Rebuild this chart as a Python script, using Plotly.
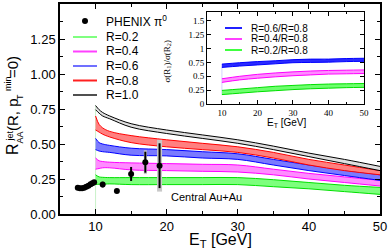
import plotly.graph_objects as go

# ---------------- data ----------------
E = [10, 10.5, 11, 12, 15, 20, 25, 30, 35, 40, 45, 50]
R10_hi = [0.775, 0.745, 0.725, 0.70, 0.645, 0.60, 0.565, 0.53, 0.485, 0.435, 0.39, 0.34]
R10_lo = [0.745, 0.72, 0.70, 0.68, 0.62, 0.575, 0.54, 0.505, 0.46, 0.41, 0.36, 0.31]
R08_hi = [0.70, 0.64, 0.615, 0.59, 0.56, 0.53, 0.505, 0.48, 0.44, 0.39, 0.35, 0.31]
R08_lo = [0.60, 0.585, 0.57, 0.55, 0.51, 0.48, 0.46, 0.44, 0.40, 0.35, 0.31, 0.28]
R06_hi = [0.54, 0.51, 0.50, 0.49, 0.47, 0.46, 0.445, 0.43, 0.39, 0.35, 0.315, 0.28]
R06_lo = [0.46, 0.45, 0.445, 0.44, 0.42, 0.415, 0.40, 0.39, 0.35, 0.31, 0.275, 0.24]
R04_hi = [0.40, 0.38, 0.375, 0.37, 0.365, 0.36, 0.355, 0.35, 0.32, 0.29, 0.265, 0.24]
R04_lo = [0.32, 0.325, 0.33, 0.33, 0.315, 0.31, 0.305, 0.30, 0.28, 0.25, 0.225, 0.20]
R02_hi = [0.28, 0.265, 0.262, 0.26, 0.26, 0.26, 0.26, 0.26, 0.245, 0.225, 0.205, 0.19]
R02_lo = [0.21, 0.213, 0.213, 0.215, 0.21, 0.21, 0.21, 0.21, 0.195, 0.18, 0.16, 0.14]

phenix_x = [7.5, 7.8, 8.1, 8.4, 8.7, 9.0, 9.3, 9.55, 9.8, 11, 13, 15, 17, 19]
phenix_y = [0.188, 0.184, 0.184, 0.188, 0.195, 0.202, 0.212, 0.219, 0.226, 0.21, 0.165, 0.286, 0.37, 0.345]
phenix_stat = [0, 0, 0, 0, 0, 0, 0, 0, 0, 0.02, 0.01, 0.05, 0.075, 0.16]
phenix_syst = [0, 0, 0, 0, 0, 0, 0, 0, 0, 0, 0, 0, 0.085, 0.185]

Ei = [10, 15, 20, 25, 30, 35, 40, 45, 50]
r06_hi = [0.72, 0.745, 0.765, 0.78, 0.80, 0.81, 0.81, 0.82, 0.825]
r06_lo = [0.66, 0.685, 0.705, 0.725, 0.745, 0.75, 0.755, 0.765, 0.77]
r04_hi = [0.455, 0.50, 0.535, 0.56, 0.58, 0.595, 0.605, 0.61, 0.615]
r04_lo = [0.39, 0.435, 0.465, 0.49, 0.51, 0.525, 0.54, 0.545, 0.55]
r02_hi = [0.245, 0.27, 0.295, 0.32, 0.335, 0.35, 0.36, 0.365, 0.37]
r02_lo = [0.17, 0.195, 0.22, 0.24, 0.26, 0.275, 0.285, 0.295, 0.30]

main_yticks = [0.0, 0.25, 0.5, 0.75, 1.0, 1.25, 1.5]
main_yticklabels = ["0.00", "0.25", "0.50", "0.75", "1.00", "1.25", "1.50"]

legend_labels = ["R=0.2", "R=0.4", "R=0.6", "R=0.8", "R=1.0"]
legend_colors = ["#80ff80", "#ff40ff", "#7070ff", "#ff2020", "#505050"]
inset_labels = ["R=0.6/R=0.8", "R=0.4/R=0.8", "R=0.2/R=0.8"]
inset_colors = ["#2020ff", "#ff40ff", "#40ff40"]

# ---------------- figure ----------------
L, T, W, H = 60, 4, 320, 210
def px(x):
    return (x - L) / W
def py(y):
    return (T + H - y) / H

fig = go.Figure()

def band(x, lo, hi, edge, fill, xa="x", ya="y"):
    fig.add_trace(go.Scatter(x=x, y=lo, mode="lines", line=dict(color=edge, width=1, shape="spline"),
                             xaxis=xa, yaxis=ya, showlegend=False, hoverinfo="skip"))
    fig.add_trace(go.Scatter(x=x, y=hi, mode="lines", line=dict(color=edge, width=1, shape="spline"),
                             fill="tonexty", fillcolor=fill,
                             xaxis=xa, yaxis=ya, showlegend=False, hoverinfo="skip"))

fig.add_trace(go.Scatter(x=[E[0], E[0]], y=[0, R10_hi[0]], mode="lines",
                         line=dict(color="rgba(150,230,150,0.5)", width=1), showlegend=False))

band(E, R02_lo, R02_hi, "#00e000", "#7dff7d")
band(E, R04_lo, R04_hi, "#ff00ff", "#ff8cff")
band(E, R06_lo, R06_hi, "#0000ff", "#7a7aff")
band(E, R08_lo, R08_hi, "#ff0000", "#ff8080")
band(E, R10_lo, R10_hi, "#000000", "#e0e0e0")

for xv, yv, sv in zip(phenix_x, phenix_y, phenix_syst):
    if sv > 0:
        fig.add_trace(go.Scatter(x=[xv], y=[yv], mode="markers", marker=dict(size=1, color="rgba(0,0,0,0)"),
                                 error_y=dict(type="data", array=[sv], color="#c8c8c8",
                                              thickness=3 + 2 * (sv > 0.1), width=0),
                                 showlegend=False))

fig.add_trace(go.Scatter(x=phenix_x, y=phenix_y, mode="markers",
                         marker=dict(color="black", size=6),
                         error_y=dict(type="data", array=phenix_stat, color="black", thickness=2, width=0),
                         showlegend=False))

fig.add_trace(go.Scatter(x=[Ei[0], Ei[0]], y=[r02_lo[0], r06_hi[0]], mode="lines",
                         line=dict(color="rgba(180,180,255,0.6)", width=1),
                         xaxis="x2", yaxis="y2", showlegend=False))
band(Ei, r06_lo, r06_hi, "#0000ff", "#2a2aff", "x2", "y2")
band(Ei, r04_lo, r04_hi, "#ff00ff", "#ff8cff", "x2", "y2")
band(Ei, r02_lo, r02_hi, "#00e000", "#6dff6d", "x2", "y2")

shapes = []
annotations = []

shapes.append(dict(type="circle", xref="paper", yref="paper",
                   x0=px(82), x1=px(88), y0=py(24), y1=py(18),
                   fillcolor="black", line=dict(color="black", width=0)))
annotations.append(dict(text="PHENIX π<sup>0</sup>", xref="paper", yref="paper",
                        x=px(104), y=py(21), xanchor="left", yanchor="middle", showarrow=False,
                        font=dict(size=12, color="black")))
rows = [37, 51.5, 66, 80.5, 95]
for lab, col, ry in zip(legend_labels, legend_colors, rows):
    shapes.append(dict(type="line", xref="paper", yref="paper",
                       x0=px(73), x1=px(97), y0=py(ry), y1=py(ry),
                       line=dict(color=col, width=2)))
    annotations.append(dict(text=lab, xref="paper", yref="paper",
                            x=px(104), y=py(ry), xanchor="left", yanchor="middle", showarrow=False,
                            font=dict(size=12, color="black")))

irows = [28, 39, 50]
for lab, col, ry in zip(inset_labels, inset_colors, irows):
    shapes.append(dict(type="line", xref="paper", yref="paper",
                       x0=px(225), x1=px(242), y0=py(ry), y1=py(ry),
                       line=dict(color=col, width=2)))
    annotations.append(dict(text=lab, xref="paper", yref="paper",
                            x=px(249), y=py(ry), xanchor="left", yanchor="middle", showarrow=False,
                            font=dict(size=10, color="black")))

annotations.append(dict(text="σ(R<sub>1</sub>)/σ(R<sub>2</sub>)", xref="paper", yref="paper",
                        x=px(167), y=py(38), textangle=-90, showarrow=False,
                        font=dict(size=9, color="black", family="Liberation Serif")))

annotations.append(dict(text="Central Au+Au", xref="x", yref="y", x=20.3, y=0.125,
                        xanchor="left", yanchor="middle", showarrow=False,
                        font=dict(size=11, color="black")))

def ytitle(text, cx, cy, size):
    annotations.append(dict(text=text, xref="paper", yref="paper", x=px(cx), y=py(cy),
                            textangle=-90, showarrow=False, xanchor="center", yanchor="middle",
                            font=dict(size=size, color="black")))
ytitle("R", 12, 149, 16)
ytitle("jet", 9.5, 136, 9)
ytitle("AA", 19.5, 138, 9)
ytitle("(R, p", 12, 115, 15)
ytitle("T", 19.5, 97.5, 9)
ytitle("min", 8, 84, 9)
ytitle("=0)", 12, 67, 15)

annotations.append(dict(text="E<sub>T</sub> [GeV]", xref="paper", yref="paper",
                        x=px(220), y=py(240), xanchor="center", yanchor="middle", showarrow=False,
                        font=dict(size=16, color="black")))
annotations.append(dict(text="E<sub>T</sub> [GeV]", xref="paper", yref="paper",
                        x=px(287), y=py(123), xanchor="center", yanchor="middle", showarrow=False,
                        font=dict(size=10, color="black")))

axis_common = dict(showgrid=False, zeroline=False, showline=True, linecolor="black",
                   mirror="ticks", ticks="inside", tickcolor="black", showticklabels=True)

fig.update_layout(
    width=388, height=249,
    margin=dict(l=L, r=388 - L - W, t=T, b=249 - T - H, autoexpand=False),
    paper_bgcolor="white", plot_bgcolor="white",
    font=dict(family="Liberation Sans, Arial", color="black"),
    showlegend=False,
    xaxis=dict(range=[5, 50], tick0=0, dtick=10, ticklen=5, linewidth=1.5,
               tickfont=dict(size=13), minor=dict(dtick=5, ticklen=3, ticks="inside", tickcolor="black"),
               **axis_common),
    yaxis=dict(range=[0, 1.5], tickmode="array", tickvals=main_yticks, ticktext=main_yticklabels,
               ticklen=5, linewidth=1.5,
               tickfont=dict(size=13), minor=dict(dtick=0.125, tick0=0, ticklen=3, ticks="inside", tickcolor="black"),
               **axis_common),
    xaxis2=dict(domain=[px(207), px(364)], anchor="y2", range=[5.8, 50], tick0=0, dtick=10,
                ticklen=4, linewidth=1, tickfont=dict(size=9, family="Liberation Serif"),
                minor=dict(dtick=5, ticklen=2, ticks="inside", tickcolor="black"),
                **axis_common),
    yaxis2=dict(domain=[py(104), py(12)], anchor="x2", range=[0, 1.66], tick0=0, dtick=0.25,
                ticklen=4, linewidth=1, tickfont=dict(size=9, family="Liberation Serif"),
                **axis_common),
    shapes=shapes,
    annotations=annotations,
)

fig.write_html("out.html", config={"displayModeBar": False},
               post_script="document.body.style.margin='0';document.body.style.padding='0';")
